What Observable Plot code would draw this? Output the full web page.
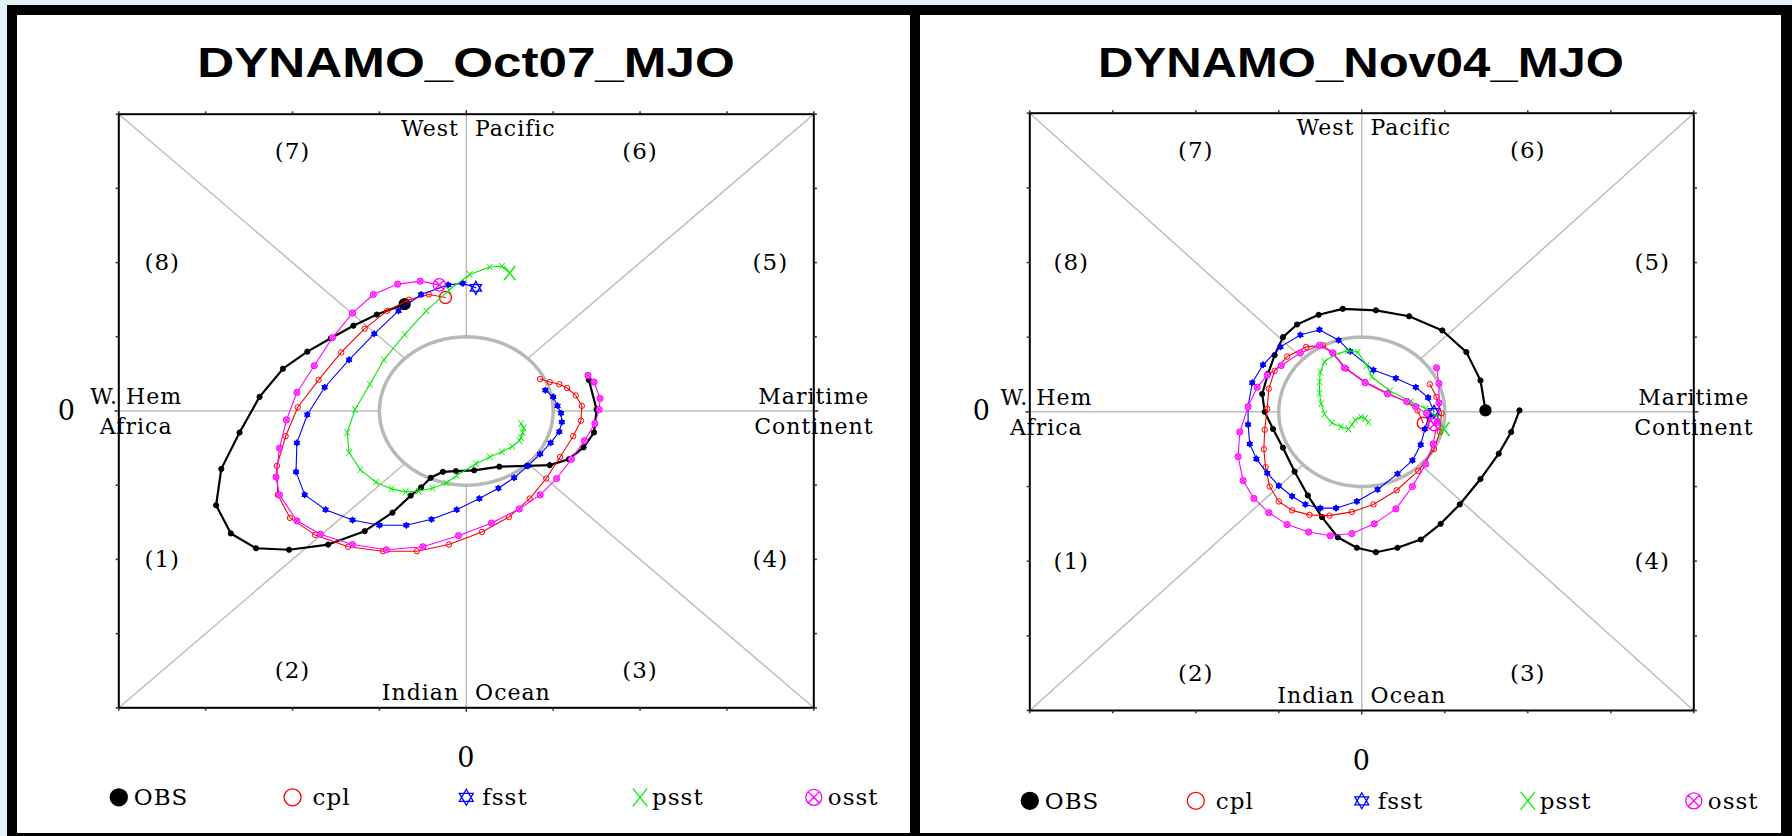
<!DOCTYPE html>
<html><head><meta charset="utf-8">
<script src="https://cdn.jsdelivr.net/npm/d3@7"></script>
<script src="https://cdn.jsdelivr.net/npm/@observablehq/plot@0.6"></script>
<style>
html,body{margin:0;padding:0}
body{width:1792px;height:836px;overflow:hidden;position:relative;background:#e3f0f8}
.panel{position:absolute;background:#fff;box-sizing:content-box;border-style:solid;border-color:#000}
.title{position:absolute;font-family:"Liberation Sans",Arial,sans-serif;font-weight:bold;font-size:43px;line-height:43px;height:43px;white-space:nowrap;color:#000;transform-origin:center}
.panel svg{position:absolute;left:0;top:0}
</style></head><body>
<div id="pL" class="panel" style="left:7px;top:5px;width:893px;height:818px;border-width:10px 10px 3px 10px"></div>
<div id="pR" class="panel" style="left:920px;top:5px;width:861px;height:818px;border-width:10px 11px 3px 0"></div>
<script>
// ---------- data (RMM1, RMM2) ----------
const titles = ["DYNAMO_Oct07_MJO", "DYNAMO_Nov04_MJO"];
const seriesNames = ["OBS", "cpl", "fsst", "psst", "osst"];
const axisTicks = [-4, -3, -2, -1, 0, 1, 2, 3, 4];
const phaseNames = ["(1)", "(2)", "(3)", "(4)", "(5)", "(6)", "(7)", "(8)"];
const regionNames = ["West\u00a0\u00a0Pacific", "Indian\u00a0\u00a0Ocean", "W. Hem", "Africa", "Maritime", "Continent"];

const oct_OBS = [[-0.71,1.44],[-1.03,1.30],[-1.30,1.15],[-1.56,0.98],[-1.83,0.80],[-2.11,0.57],[-2.38,0.19],[-2.61,-0.29],[-2.82,-0.78],[-2.88,-1.27],[-2.71,-1.65],[-2.42,-1.85],[-2.04,-1.87],[-1.59,-1.80],[-1.17,-1.62],[-0.85,-1.37],[-0.64,-1.14],[-0.52,-1.03],[-0.41,-0.90],[-0.27,-0.82],[-0.12,-0.81],[0.09,-0.80],[0.38,-0.75],[0.70,-0.74],[0.96,-0.73],[1.18,-0.65],[1.35,-0.49],[1.47,-0.29],[1.50,0.02],[1.41,0.42]];
const oct_cpl = [[-0.24,1.53],[-0.43,1.57],[-0.66,1.50],[-0.91,1.35],[-1.17,1.11],[-1.44,0.79],[-1.70,0.42],[-1.94,0.05],[-2.08,-0.34],[-2.18,-0.74],[-2.17,-1.13],[-2.03,-1.44],[-1.74,-1.67],[-1.36,-1.83],[-0.96,-1.89],[-0.57,-1.89],[-0.20,-1.80],[0.18,-1.63],[0.49,-1.43],[0.73,-1.18],[0.92,-0.91],[1.08,-0.62],[1.23,-0.34],[1.32,-0.13],[1.33,0.07],[1.26,0.21],[1.16,0.31],[1.07,0.36],[0.96,0.39],[0.85,0.43]];
const oct_fsst = [[0.11,1.66],[-0.04,1.72],[-0.21,1.70],[-0.52,1.57],[-0.78,1.35],[-1.06,1.04],[-1.35,0.69],[-1.63,0.32],[-1.83,-0.05],[-1.95,-0.43],[-1.96,-0.82],[-1.86,-1.13],[-1.62,-1.33],[-1.31,-1.47],[-1.00,-1.54],[-0.69,-1.54],[-0.40,-1.46],[-0.11,-1.33],[0.15,-1.18],[0.37,-1.04],[0.55,-0.90],[0.71,-0.74],[0.85,-0.58],[0.97,-0.43],[1.07,-0.28],[1.10,-0.15],[1.09,-0.03],[1.05,0.07],[1.00,0.19],[0.91,0.28]];
const oct_psst = [[0.50,1.86],[0.41,1.95],[0.27,1.94],[0.04,1.84],[-0.20,1.63],[-0.46,1.35],[-0.71,1.03],[-0.95,0.69],[-1.11,0.36],[-1.28,0.02],[-1.37,-0.29],[-1.35,-0.56],[-1.22,-0.79],[-1.04,-0.96],[-0.86,-1.05],[-0.70,-1.09],[-0.55,-1.08],[-0.39,-1.04],[-0.23,-0.97],[-0.11,-0.87],[0.11,-0.71],[0.27,-0.62],[0.41,-0.55],[0.53,-0.48],[0.61,-0.40],[0.63,-0.36],[0.65,-0.29],[0.66,-0.23],[0.63,-0.17]];
const oct_osst = [[-0.31,1.70],[-0.53,1.75],[-0.79,1.71],[-1.07,1.57],[-1.31,1.32],[-1.54,0.99],[-1.75,0.61],[-1.95,0.25],[-2.07,-0.12],[-2.15,-0.50],[-2.19,-0.89],[-2.15,-1.13],[-1.95,-1.48],[-1.68,-1.66],[-1.31,-1.80],[-0.92,-1.87],[-0.50,-1.83],[-0.09,-1.68],[0.29,-1.51],[0.61,-1.32],[0.85,-1.13],[1.04,-0.91],[1.21,-0.65],[1.36,-0.40],[1.48,-0.17],[1.53,0.02],[1.54,0.17],[1.47,0.39],[1.40,0.48]];

const nov_OBS = [[1.49,0.02],[1.43,0.42],[1.26,0.80],[0.97,1.09],[0.57,1.28],[0.17,1.36],[-0.23,1.38],[-0.52,1.30],[-0.78,1.17],[-0.95,1.00],[-1.05,0.76],[-1.13,0.51],[-1.20,0.24],[-1.17,0.00],[-1.07,-0.23],[-0.95,-0.48],[-0.81,-0.80],[-0.65,-1.12],[-0.48,-1.41],[-0.29,-1.68],[-0.06,-1.82],[0.17,-1.88],[0.43,-1.82],[0.71,-1.71],[0.95,-1.50],[1.18,-1.24],[1.43,-0.90],[1.65,-0.56],[1.80,-0.27],[1.90,0.02]];
const nov_cpl = [[0.74,-0.15],[0.67,0.02],[0.55,0.13],[0.31,0.25],[0.04,0.40],[-0.19,0.58],[-0.35,0.79],[-0.47,0.89],[-0.67,0.87],[-0.90,0.74],[-1.05,0.55],[-1.12,0.31],[-1.14,0.04],[-1.17,-0.24],[-1.18,-0.50],[-1.16,-0.74],[-1.11,-1.00],[-1.00,-1.20],[-0.84,-1.32],[-0.63,-1.38],[-0.39,-1.39],[-0.12,-1.34],[0.14,-1.24],[0.42,-1.05],[0.68,-0.79],[0.87,-0.50],[0.94,-0.27],[0.96,-0.02],[0.90,0.20],[0.82,0.37]];
const nov_fsst = [[0.87,0.00],[0.80,0.19],[0.65,0.33],[0.41,0.45],[0.14,0.56],[-0.14,0.81],[-0.28,0.96],[-0.51,1.10],[-0.74,1.03],[-0.98,0.87],[-1.19,0.63],[-1.32,0.39],[-1.37,0.07],[-1.37,-0.17],[-1.35,-0.43],[-1.27,-0.63],[-1.14,-0.82],[-1.00,-0.99],[-0.84,-1.13],[-0.68,-1.24],[-0.50,-1.29],[-0.31,-1.29],[-0.06,-1.20],[0.19,-1.04],[0.43,-0.83],[0.61,-0.65],[0.71,-0.44],[0.76,-0.23],[0.81,-0.05]];
const nov_psst = [[0.99,-0.23],[0.92,-0.07],[0.77,0.04],[0.59,0.14],[0.34,0.28],[0.12,0.47],[0.06,0.62],[-0.05,0.80],[-0.17,0.82],[-0.34,0.76],[-0.45,0.67],[-0.50,0.53],[-0.51,0.40],[-0.51,0.25],[-0.49,0.11],[-0.45,-0.03],[-0.36,-0.15],[-0.25,-0.20],[-0.16,-0.23],[-0.12,-0.17],[-0.08,-0.11],[-0.01,-0.07],[0.04,-0.09],[0.08,-0.14]];
const nov_osst = [[0.87,-0.17],[0.78,-0.02],[0.65,0.07],[0.54,0.14],[0.31,0.24],[0.04,0.39],[-0.21,0.59],[-0.35,0.79],[-0.51,0.89],[-0.74,0.79],[-0.97,0.62],[-1.14,0.49],[-1.26,0.33],[-1.37,0.07],[-1.47,-0.27],[-1.49,-0.60],[-1.43,-0.92],[-1.30,-1.16],[-1.12,-1.35],[-0.90,-1.51],[-0.64,-1.61],[-0.38,-1.66],[-0.12,-1.63],[0.15,-1.50],[0.41,-1.30],[0.61,-1.00],[0.77,-0.70],[0.86,-0.43],[0.91,-0.14],[0.93,0.12],[0.93,0.38],[0.90,0.59]];

const octSeries = [oct_OBS, oct_cpl, oct_fsst, oct_psst, oct_osst];
const novSeries = [nov_OBS, nov_cpl, nov_fsst, nov_psst, nov_osst];

// ---------- custom marker symbols ----------
const R = s => Math.sqrt(s / Math.PI);
const tickSym = (dx, dy) => ({draw(c, s) { const r = R(s); c.moveTo(0, 0); c.lineTo(dx * r, dy * r); }});
const tickUp = tickSym(0, -1), tickDown = tickSym(0, 1), tickLeft = tickSym(-1, 0), tickRight = tickSym(1, 0);
const hexagram = {draw(c, s) {
  const r = R(s);
  for (const a0 of [-Math.PI / 2, Math.PI / 2]) {
    c.moveTo(r * Math.cos(a0), r * Math.sin(a0));
    for (let i = 1; i < 3; i++) { const a = a0 + i * 2 * Math.PI / 3; c.lineTo(r * Math.cos(a), r * Math.sin(a)); }
    c.closePath();
  }
}};
const timesSym = {draw(c, s) { const r = R(s), k = r * 0.8; c.moveTo(-k, -r); c.lineTo(k, r); c.moveTo(-k, r); c.lineTo(k, -r); }};
const circledX = {draw(c, s) {
  const r = R(s), k = r * Math.SQRT1_2;
  c.moveTo(r, 0); c.arc(0, 0, r, 0, 2 * Math.PI);
  c.moveTo(-k, -k); c.lineTo(k, k); c.moveTo(-k, k); c.lineTo(k, -k);
}};

const look = [
  {color: "#000000", width: 2.2, sym: "circle", r: 2.6, fill: "#000000", startR: 5.5, legR: 8.5, legFill: "#000000", legDx: 15},
  {color: "#ff0000", width: 1.1, sym: "circle", r: 2.7, fill: "none", startR: 6, legR: 8.5, legFill: "none", legDx: 20},
  {color: "#0000ff", width: 1.1, sym: hexagram, r: 3.3, fill: "#0000ff", startR: 6.5, legR: 8, legFill: "none", legDx: 16},
  {color: "#00ee00", width: 1.1, sym: timesSym, r: 3.4, fill: "none", startR: 7, legR: 9, legFill: "none", legDx: 12},
  {color: "#ff00ff", width: 1.1, sym: circledX, r: 3.1, fill: "#ff66ff", startR: 6.2, legR: 8, legFill: "none", legDx: 14}
];

// guide geometry
const circlePts = d3.range(0, 361, 3).map(a => [Math.cos(a * Math.PI / 180), Math.sin(a * Math.PI / 180)]);
const spokes = d3.range(0, 360, 45).map(a => {
  const c = Math.cos(a * Math.PI / 180), s = Math.sin(a * Math.PI / 180), m = 4 / Math.max(Math.abs(c), Math.abs(s));
  return {x1: c, y1: s, x2: c * m, y2: s * m};
});
const phaseAt = [[-3.5, -2], [-2, -3.5], [2, -3.5], [3.5, -2], [3.5, 2], [2, 3.5], [-2, 3.5], [-3.5, 2]];
const regionAt = [[0, 3.8, 12], [0, -3.8, 0], [-3.8, 0.19, 0], [-3.8, -0.21, 0], [4, 0.19, 0], [4, -0.21, 0]];

function panel(el, cfg) {
  const serif = "DejaVu Serif";
  const marks = [
    Plot.link(spokes, {x1: "x1", y1: "y1", x2: "x2", y2: "y2", stroke: "#bdbdbd", strokeWidth: 1.5}),
    Plot.line(circlePts, {x: d => d[0], y: d => d[1], stroke: "#b8b8b8", strokeWidth: 3.5}),
    Plot.frame({stroke: "#000", strokeWidth: 2}),
    Plot.dot(axisTicks, {x: d => d, frameAnchor: "top", symbol: tickUp, r: d => d === 0 ? 20 : 10, stroke: "#333", strokeWidth: 1.5, fill: "none"}),
    Plot.dot(axisTicks, {x: d => d, frameAnchor: "bottom", symbol: tickDown, r: d => d === 0 ? 20 : 10, stroke: "#333", strokeWidth: 1.5, fill: "none"}),
    Plot.dot(axisTicks, {y: d => d, frameAnchor: "left", symbol: tickLeft, r: d => d === 0 ? 23 : 12, stroke: "#333", strokeWidth: 1.5, fill: "none"}),
    Plot.dot(axisTicks, {y: d => d, frameAnchor: "right", symbol: tickRight, r: d => d === 0 ? 25 : 12, stroke: "#333", strokeWidth: 1.5, fill: "none"}),
    Plot.text(phaseNames, {x: (d, i) => phaseAt[i][0], y: (d, i) => phaseAt[i][1], text: d => d, fontSize: 23, fontFamily: serif}),
    Plot.text(regionNames.slice(0, 1), {x: () => regionAt[0][0], y: () => regionAt[0][1], dx: regionAt[0][2], text: d => d, fontSize: 22, fontFamily: serif}),
    Plot.text(regionNames.slice(1), {x: (d, i) => regionAt[i + 1][0], y: (d, i) => regionAt[i + 1][1], text: d => d, fontSize: 22, fontFamily: serif}),
    Plot.text(["0"], {frameAnchor: "left", y: () => 0, dx: cfg.zeroDx, text: d => d, fontSize: 27, fontFamily: serif}),
    Plot.text(["0"], {frameAnchor: "bottom", x: () => 0, dy: 59, text: d => d, fontSize: 27, fontFamily: serif})
  ];
  cfg.series.forEach((pts, i) => {
    const L = look[i];
    marks.push(
      Plot.line(pts, {x: d => d[0], y: d => d[1], stroke: L.color, strokeWidth: L.width}),
      Plot.dot(pts.slice(1), {x: d => d[0], y: d => d[1], symbol: L.sym, r: L.r, stroke: L.color, strokeWidth: 1, fill: L.fill}),
      Plot.dot(pts.slice(0, 1), {x: d => d[0], y: d => d[1], symbol: L.sym, r: L.startR, stroke: L.color, strokeWidth: 1.3, fill: i === 0 ? L.color : "none"})
    );
  });
  const legendX = d3.range(-4, 5, 2);
  seriesNames.forEach((name, i) => {
    const L = look[i];
    marks.push(
      Plot.dot([name], {x: () => legendX[i], frameAnchor: "bottom", dy: cfg.legDy, symbol: L.sym, r: L.legR, stroke: L.color, strokeWidth: 1.3, fill: L.legFill}),
      Plot.text([name], {x: () => legendX[i], frameAnchor: "bottom", dy: cfg.legDy + 8, dx: L.legDx, textAnchor: "start", text: d => d, fontSize: 23, fontFamily: serif})
    );
  });
  const svg = Plot.plot({
    width: cfg.W, height: cfg.H,
    marginLeft: cfg.mL, marginRight: cfg.mR, marginTop: cfg.mT, marginBottom: cfg.mB,
    x: {domain: [-4, 4], axis: null},
    y: {domain: [-4, 4], axis: null},
    style: {background: "transparent", overflow: "visible", letterSpacing: "1px", fontFamily: serif, color: "#000"},
    marks
  });
  el.appendChild(svg);
  const t = document.createElement("div");
  t.className = "title";
  t.textContent = cfg.title;
  t.style.left = (cfg.mL + (cfg.W - cfg.mL - cfg.mR) / 2) + "px";
  t.style.top = "25.9px";
  t.style.transform = `translateX(-50%) scaleX(${cfg.tScale})`;
  el.appendChild(t);
}

panel(document.getElementById("pL"), {title: titles[0], series: octSeries, W: 893, H: 818, mL: 101.3, mR: 96.7, mT: 98.7, mB: 125.7, tScale: 1.19, zeroDx: -61, legDy: 89.5});
panel(document.getElementById("pR"), {title: titles[1], series: novSeries, W: 861, H: 818, mL: 109.3, mR: 87.7, mT: 97.7, mB: 123, tScale: 1.14, zeroDx: -57, legDy: 90.3});
</script>
</body></html>
